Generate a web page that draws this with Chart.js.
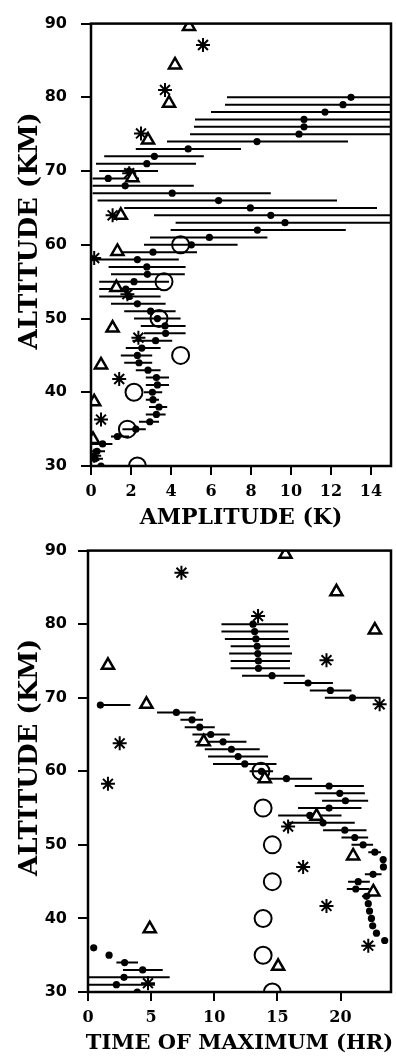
<!DOCTYPE html>
<html>
<head>
<meta charset="utf-8">
<script src="https://cdn.jsdelivr.net/npm/chart.js@4.4.0/dist/chart.umd.min.js"></script>
<style>
    body { margin: 0; background: #fff; width: 396px; height: 1062px; position: relative; overflow: hidden; }
    canvas { position: absolute; left: 0; }
    #ampChart { top: 0; }
    #phaseChart { top: 530px; }
</style>
</head>
<body>
<canvas id="ampChart" width="396" height="530"></canvas>
<canvas id="phaseChart" width="396" height="532"></canvas>
<script>
//tick labels
const altTicks = [30, 40, 50, 60, 70, 80, 90];
const ampTicks = [0, 2, 4, 6, 8, 10, 12, 14];
const hourTicks = [0, 5, 10, 15, 20];

//mean profile altitudes (km)
const profileAlt = [80, 79, 78, 77, 76, 75, 74, 73, 72, 71, 70, 69, 68, 67, 66, 65, 64, 63, 62, 61,
    60, 59, 58, 57, 56, 55, 54, 53, 52, 51, 50, 49, 48, 47, 46, 45, 44, 43, 42, 41,
    40, 39, 38, 37, 36, 35, 34, 33, 32, 31, 30];

//amplitude (K) + error bar ends
const ampMean = [13.0, 12.6, 11.7, 10.65, 10.65, 10.4, 8.3, 4.86, 3.17, 2.79, 1.9, 0.86, 1.71, 4.06, 6.38, 7.97, 8.99, 9.7, 8.32, 5.92,
    5.02, 3.1, 2.32, 2.79, 2.82, 2.15, 1.74, 1.9, 2.32, 2.98, 3.32, 3.7, 3.73, 3.23, 2.54, 2.32, 2.4, 2.85, 3.27, 3.32,
    3.07, 3.1, 3.4, 3.27, 2.94, 2.24, 1.32, 0.58, 0.3, 0.2, 0.5];
const ampLow = [6.8, 6.7, 6.0, 5.2, 5.15, 4.95, 3.8, 2.24, 0.66, 0.25, 0.41, 0.08, 0.08, 0.08, 0.33, 1.66, 3.15, 4.23, 3.98, 2.95,
    2.65, 1.24, 0.08, 0.88, 1.0, 0.41, 0.41, 0.41, 1.0, 1.66, 2.15, 2.49, 2.65, 2.07, 1.74, 1.49, 1.66, 2.24, 2.74, 2.74,
    2.65, 2.74, 2.9, 2.74, 2.4, 1.57, 1.0, 0.0, 0.0, 0.0, 0.1];
const ampHigh = [16, 16, 16, 16, 16, 16, 12.85, 7.5, 5.64, 5.25, 3.35, 2.4, 5.14, 8.99, 12.3, 14.3, 16, 16, 12.74, 8.82,
    7.33, 5.3, 4.39, 4.73, 4.69, 3.9, 3.48, 3.48, 3.73, 4.23, 4.48, 4.73, 4.73, 4.06, 3.48, 3.06, 3.06, 3.48, 3.9, 3.9,
    3.56, 3.4, 3.81, 3.73, 3.4, 2.74, 1.9, 1.07, 0.7, 0.6, 0.9];

//other amplitude sets
const triAmpAlt = [89.6, 84.4, 79.2, 74.2, 69.1, 64.0, 59.1, 54.2, 48.7, 43.7, 38.7, 33.6];
const triAmp = [4.9, 4.2, 3.9, 2.85, 2.07, 1.49, 1.32, 1.27, 1.08, 0.5, 0.16, 0.1];
const starAmpAlt = [87.1, 81.0, 75.1, 69.7, 64.0, 58.2, 53.3, 47.4, 41.8, 36.3, 31.4];
const starAmp = [5.6, 3.7, 2.5, 1.91, 1.08, 0.16, 1.82, 2.37, 1.41, 0.5, 0.16];
const circAmpAlt = [60, 55, 50, 45, 40, 35, 30];
const circAmp = [4.48, 3.65, 3.4, 4.48, 2.15, 1.82, 2.32];

//time of maximum (hr) + error bar ends
const phaseMean = [13.07, 13.2, 13.3, 13.4, 13.45, 13.5, 13.5, 14.58, 17.43, 19.2, 20.95, 0.98, 7.0, 8.24, 8.85, 9.72, 10.7, 11.36, 11.89, 12.42,
    13.74, 15.72, 19.1, 19.94, 20.39, 19.1, 17.57, 18.62, 20.34, 21.13, 21.79, 22.72, 23.38, 23.4, 22.58, 21.4, 21.21, 22.06, 22.2, 22.3,
    22.45, 22.55, 22.85, 23.5, 0.45, 1.67, 2.9, 4.33, 2.85, 2.25, 3.9];
const phaseLow = [10.57, 10.57, 10.84, 11.3, 11.18, 11.3, 11.3, 12.2, 15.5, 17.57, 18.76, 0.98, 5.47, 7.32, 7.66, 8.27, 8.45, 9.25, 9.51, 9.9,
    12.8, 13.74, 16.38, 17.96, 18.54, 16.64, 15.06, 15.85, 18.62, 20.08, 20.87, 22.2, 23.38, 23.4, 21.93, 20.6, 20.5, 21.7, 22.2, 22.3,
    22.45, 22.55, 22.85, 23.5, 0.45, 1.67, 2.25, 2.77, -1, -1, 3.9];
const phaseHigh = [15.85, 15.85, 15.93, 16.0, 16.16, 16.0, 16.0, 17.17, 19.4, 20.87, 23.1, 3.36, 8.53, 9.11, 10.04, 11.23, 12.55, 13.6, 14.26, 14.93,
    14.66, 17.75, 21.85, 21.93, 22.19, 21.66, 20.08, 21.13, 22.06, 22.19, 22.58, 23.2, 23.38, 23.4, 23.25, 22.32, 22.3, 22.4, 22.2, 22.3,
    22.45, 22.55, 22.85, 23.5, 0.45, 1.67, 3.96, 5.92, 6.47, 5.3, 3.9];

//other phase sets
const triPhaseAlt = [89.5, 84.4, 79.2, 74.4, 69.1, 64.0, 59.0, 53.9, 48.5, 43.6, 38.6, 33.5];
const triPhase = [15.64, 19.68, 22.72, 1.58, 4.63, 9.17, 14.0, 18.1, 21.0, 22.6, 4.89, 15.06];
const starPhaseAlt = [87.0, 81.1, 75.1, 69.1, 63.8, 58.3, 52.5, 47.0, 41.7, 36.3, 31.2];
const starPhase = [7.4, 13.47, 18.89, 23.1, 2.51, 1.58, 15.85, 17.04, 18.89, 22.2, 4.75];
const circPhaseAlt = [60, 55, 50, 45, 40, 35, 30];
const circPhase = [13.7, 13.87, 14.6, 14.6, 13.87, 13.87, 14.6];

const toPoints = (xs, ys) => xs.map((v, i) => ({ x: v, y: ys[i] }));

//horizontal error bars drawn under the points
const errorBars = {
    id: 'errorBars',
    beforeDatasetsDraw(chart) {
        const ctx = chart.ctx;
        const a = chart.chartArea;
        const xs = chart.scales.x;
        const ys = chart.scales.y;
        ctx.save();
        ctx.beginPath();
        ctx.rect(a.left, a.top, a.right - a.left, a.bottom - a.top);
        ctx.clip();
        ctx.strokeStyle = '#000';
        ctx.lineWidth = 2;
        chart.data.datasets.forEach(ds => {
            if (!ds.errLow) return;
            ds.data.forEach((p, i) => {
                const lo = ds.errLow[i];
                const hi = ds.errHigh[i];
                if (hi - lo < 0.05) return;
                const yy = ys.getPixelForValue(p.y);
                ctx.beginPath();
                ctx.moveTo(xs.getPixelForValue(lo), yy);
                ctx.lineTo(xs.getPixelForValue(hi), yy);
                ctx.stroke();
            });
        });
        ctx.restore();
    }
};

//box round the plot + axis titles
const frameTitles = {
    id: 'frameTitles',
    afterDraw(chart, args, opts) {
        const ctx = chart.ctx;
        const a = chart.chartArea;
        ctx.save();
        ctx.strokeStyle = '#000';
        ctx.lineWidth = 2.5;
        ctx.strokeRect(a.left, a.top, a.right - a.left, a.bottom - a.top);
        ctx.fillStyle = '#000';
        ctx.textAlign = 'center';
        ctx.textBaseline = 'middle';
        ctx.font = opts.xFont;
        ctx.fillText(opts.xTitle, (a.left + a.right) / 2, a.bottom + 52);
        ctx.translate(30, (a.top + a.bottom) / 2 - 14);
        ctx.rotate(-Math.PI / 2);
        ctx.font = 'bold 26px "DejaVu Serif"';
        ctx.fillText(opts.yTitle, 0, 0);
        ctx.restore();
    }
};

const makeSets = (mean, low, high, triX, triY, starX, starY, circX, circY) => [{
        label: 'mean',
        data: toPoints(mean, profileAlt),
        errLow: low,
        errHigh: high,
        pointStyle: 'circle',
        pointRadius: 3.6,
        backgroundColor: '#000',
        borderWidth: 0,
        clip: 0
    }, {
        label: 'triangles',
        data: toPoints(triX, triY),
        pointStyle: 'triangle',
        pointRadius: 7,
        backgroundColor: '#fff',
        borderColor: '#000',
        borderWidth: 2.5,
        clip: 0
    }, {
        label: 'stars',
        data: toPoints(starX, starY),
        pointStyle: 'star',
        pointRadius: 7,
        borderColor: '#000',
        borderWidth: 2,
        clip: 0
    }, {
        label: 'circles',
        data: toPoints(circX, circY),
        pointStyle: 'circle',
        pointRadius: 8.5,
        backgroundColor: 'rgba(0,0,0,0)',
        borderColor: '#000',
        borderWidth: 2,
        clip: 0
    }];

const makeOptions = (xMax, xTicks, yWidth, xHeight, padTop, yPad, xTitle, xFont) => ({
    responsive: false,
    animation: false,
    layout: { autoPadding: false, padding: { left: 0, right: 5, top: padTop, bottom: 0 } },
    plugins: {
        legend: { display: false },
        tooltip: { enabled: false },
        frameTitles: { xTitle: xTitle, xFont: xFont, yTitle: 'ALTITUDE (KM)' }
    },
    scales: {
        x: {
            type: 'linear',
            min: 0,
            max: xMax,
            afterBuildTicks: s => { s.ticks = xTicks.map(v => ({ value: v })); },
            afterFit: s => { s.height = xHeight; },
            border: { display: false },
            grid: { drawOnChartArea: false, drawTicks: true, tickLength: 9, color: '#000', lineWidth: 2 },
            ticks: { color: '#000', maxRotation: 0, padding: 7, font: { family: 'DejaVu Serif', weight: 'bold', size: 16 } }
        },
        y: {
            type: 'linear',
            min: 30,
            max: 90,
            afterBuildTicks: s => { s.ticks = altTicks.map(v => ({ value: v })); },
            afterFit: s => { s.width = yWidth; },
            border: { display: false },
            grid: { drawOnChartArea: false, drawTicks: true, tickLength: 10, color: '#000', lineWidth: 2 },
            ticks: { color: '#000', padding: yPad, font: { family: 'DejaVu Sans', weight: 'bold', size: 16 } }
        }
    }
});

//amplitude graph
const ampGraph = () => {
    var ctx = document.getElementById('ampChart').getContext('2d');
    var chart = new Chart(ctx, {
        type: 'scatter',
        data: { datasets: makeSets(ampMean, ampLow, ampHigh, triAmp, triAmpAlt, starAmp, starAmpAlt, circAmp, circAmpAlt) },
        options: makeOptions(15, ampTicks, 91, 64, 14, 14, 'AMPLITUDE (K)', 'bold 22px "DejaVu Serif"'),
        plugins: [errorBars, frameTitles]
    });
};
ampGraph()

//phase graph
const phaseGraph = () => {
    var ctx = document.getElementById('phaseChart').getContext('2d');
    var chart = new Chart(ctx, {
        type: 'scatter',
        data: { datasets: makeSets(phaseMean, phaseLow, phaseHigh, triPhase, triPhaseAlt, starPhase, starPhaseAlt, circPhase, circPhaseAlt) },
        options: makeOptions(24, hourTicks, 88, 70, 9.5, 11, 'TIME OF MAXIMUM (HR)', 'bold 21px "DejaVu Serif"'),
        plugins: [errorBars, frameTitles]
    });
};
phaseGraph()
</script>
</body>
</html>
